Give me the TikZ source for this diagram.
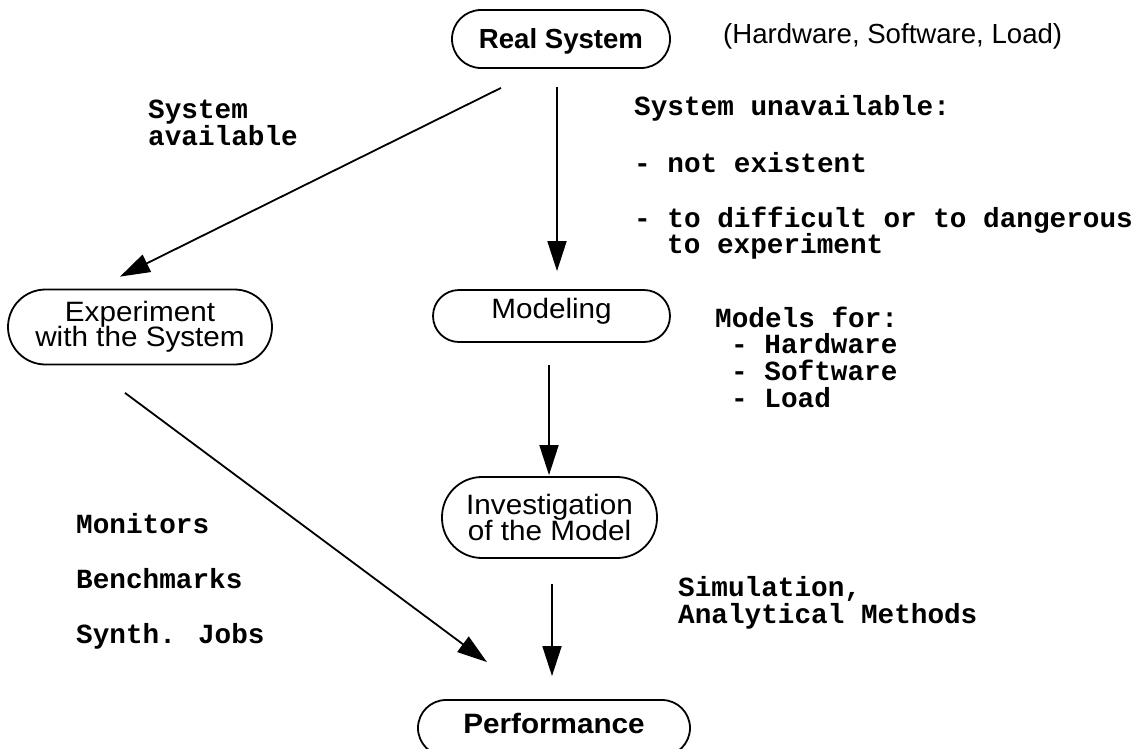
\documentclass[tikz,border=0pt]{standalone}
\usepackage{fontspec}
\setmainfont{Liberation Sans}
\newfontfamily\widesans[FakeStretch=1.06]{Liberation Sans}
\newfontfamily\codefont{Liberation Mono}
\usetikzlibrary{arrows.meta,calc}
\newcommand\tightlines{\lineskiplimit=-50pt\relax}

\begin{document}
\begin{tikzpicture}[x=1pt,y=-1pt,
  stage/.style={draw, line width=1.8pt, inner sep=0pt, align=center,
    font={\fontsize{28}{25.5}\selectfont\widesans\tightlines}},
  keystage/.style={stage},
  note/.style={anchor=base west, inner sep=0pt,
    font=\fontsize{27.7}{27}\selectfont\codefont\bfseries},
  remark/.style={anchor=base west, inner sep=0pt,
    font=\fontsize{27.6}{28}\selectfont},
  flow/.style={line width=1.8pt, -{Triangle[length=30pt,width=19pt]}}]

\useasboundingbox (0,0) rectangle (1138,748);

% stages of the evaluation process
\node[keystage, font=\fontsize{27.6}{28}\selectfont\bfseries,
  minimum width=218pt, minimum height=58pt, rounded corners=29pt,
  text height=20pt, text depth=2pt]
  (real) at (561,39) {Real System};
\node[stage, minimum width=264pt, minimum height=75pt, rounded corners=37.5pt]
  (exp) at (140,327) {Experiment\\with the System};
\node[stage, minimum width=237pt, minimum height=52pt, rounded corners=26pt,
  text height=20.4pt, text depth=16.4pt]
  (model) at (551.5,316) {Modeling};
\node[stage, minimum width=215pt, minimum height=81pt, rounded corners=40pt]
  (inv) at (549.5,517.5) {Investigation\\of the Model};
\node[keystage, font=\fontsize{28}{28}\selectfont\widesans\bfseries,
  minimum width=272pt, minimum height=56pt, rounded corners=28pt,
  text height=21.7pt, text depth=11.7pt]
  (perf) at (554,728) {Performance};

\node[remark] (parts) at (723,43) {(Hardware, Software, Load)};

% connectors
\draw[flow] ($(real.south)+(-60,19)$) -- ($(exp.north)+(-20,-12)$);
\draw[flow] ($(real.south)+(-4,18)$) -- ($(model.north)+(5.5,-18)$);
\draw[flow] ($(model.south)+(-2.5,22)$) -- ($(inv.north)+(-0.5,-1)$);
\draw[flow] ($(exp.south)+(-15,27.5)$) -- ($(perf.north)+(-67,-37)$);
\draw[flow] ($(inv.south)+(2.5,25)$) -- ($(perf.north)+(-2,-23)$);

% annotations
\node[note] (av1) at (148,118) {System};
\node[note] (av2) at (148,145) {available};

\node[note] (un1) at (634,115) {System unavailable:};
\node[note] (un2) at (634,172) {- not existent};
\node[note] (un3) at (634,227) {- to difficult or to dangerous};
\node[note] (un4) at (667,253) {to experiment};

\node[note] (mf1) at (715,327) {Models for:};
\node[note] (mf2) at (731,353) {- Hardware};
\node[note] (mf3) at (731,380) {- Software};
\node[note] (mf4) at (731,407) {- Load};

\node[note] (tool1) at (76,533) {Monitors};
\node[note] (tool2) at (76,588) {Benchmarks};
\node[note] (tool3) at (76,643) {Synth. Jobs};

\node[note] (meth1) at (678,596) {Simulation,};
\node[note] (meth2) at (678,623) {Analytical Methods};
\end{tikzpicture}
\end{document}
